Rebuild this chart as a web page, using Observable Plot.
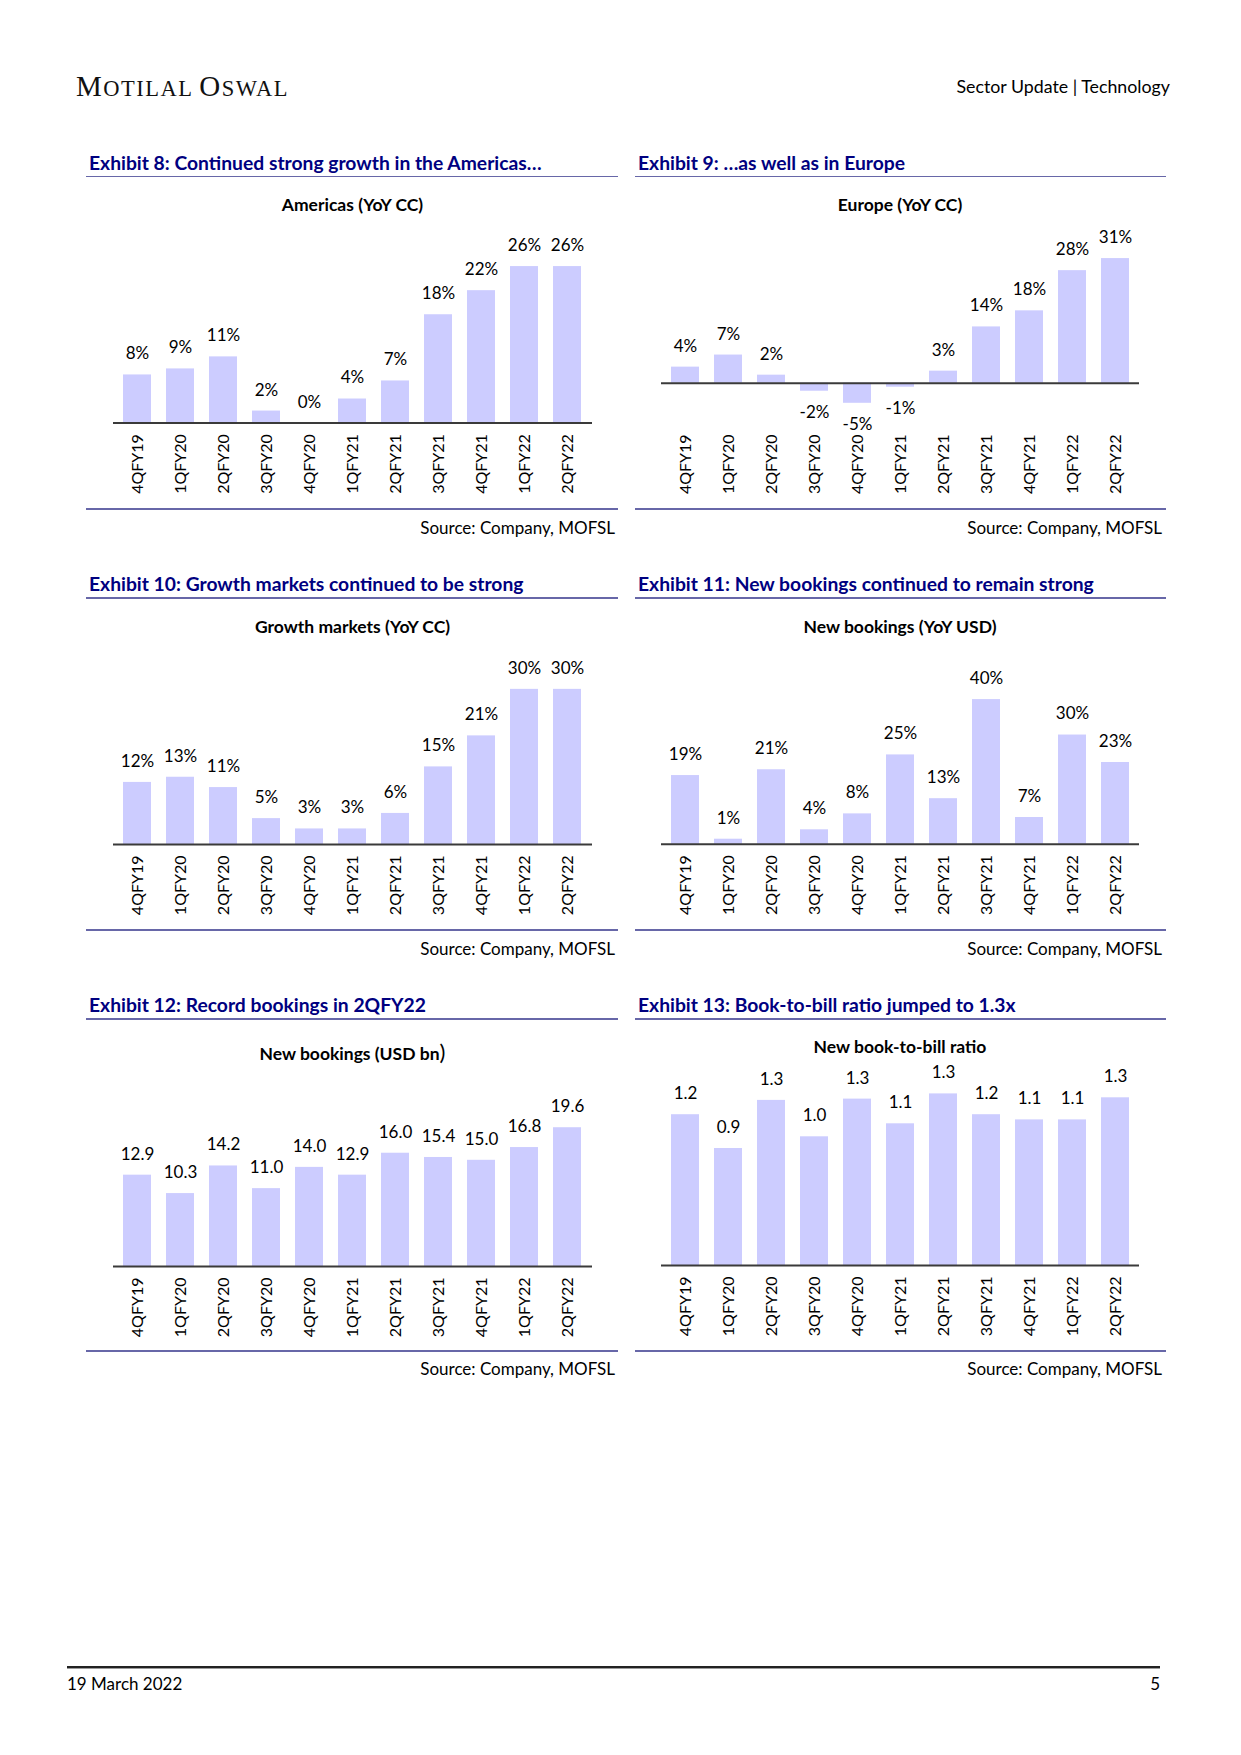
<!DOCTYPE html>
<html><head><meta charset="utf-8">
<script src="https://cdn.jsdelivr.net/npm/d3@7"></script>
<script src="https://cdn.jsdelivr.net/npm/@observablehq/plot@0.6"></script>
<style>
html,body{margin:0;padding:0;background:#fff;}
#page{position:relative;width:1241px;height:1755px;overflow:hidden;font-family:Lato,"Open Sans",sans-serif;}
.abs{position:absolute;white-space:nowrap;line-height:1;}
.hl{position:absolute;}
svg{overflow:visible;}
</style></head>
<body><div id="page"></div>
<script>
// ---------------- data ----------------
const quarters = ["4QFY19","1QFY20","2QFY20","3QFY20","4QFY20","1QFY21","2QFY21","3QFY21","4QFY21","1QFY22","2QFY22"];
const americas = [8, 9, 11, 2, 0, 4, 7, 18, 22, 26, 26];
const europe = [4, 7, 2, -2, -5, -1, 3, 14, 18, 28, 31];
const growthMarkets = [12, 13, 11, 5, 3, 3, 6, 15, 21, 30, 30];
const bookingsYoY = [19.0, 1.4, 20.6, 4.0, 8.4, 24.7, 12.6, 40.0, 7.4, 30.2, 22.6];
const bookingsUSD = [12.9, 10.3, 14.2, 11.0, 14.0, 12.9, 16.0, 15.4, 15.0, 16.8, 19.6];
const bookToBill = [1.16, 0.90, 1.27, 0.99, 1.28, 1.09, 1.32, 1.16, 1.12, 1.12, 1.29];

const exhibitTitles = [
  "Exhibit 8: Continued strong growth in the Americas…",
  "Exhibit 9: …as well as in Europe",
  "Exhibit 10: Growth markets continued to be strong",
  "Exhibit 11: New bookings continued to remain strong",
  "Exhibit 12: Record bookings in 2QFY22",
  "Exhibit 13: Book-to-bill ratio jumped to 1.3x"
];
const chartTitles = ["Americas (YoY CC)", "Europe (YoY CC)", "Growth markets (YoY CC)", "New bookings (YoY USD)", "New bookings (USD bn", "New book-to-bill ratio"];
const chartTitleTails = ["", "", "", "", ")", ""];
const sourceText = "Source: Company, MOFSL";
const headerRight = "Sector Update | Technology";
const footerDate = "19 March 2022";
const pageNumber = "5";

// ---------------- layout ----------------
const page = document.getElementById("page");
const NAVY = "#000080", RULE = "#6767A8", BAR = "#CCCCFF";

function put(html, x, y, o = {}) {
  const {anchor = "start", size = 17, weight = 400, color = "#000", family = "Lato, sans-serif", ls = 0} = o;
  const d = document.createElement("div");
  d.className = "abs";
  d.innerHTML = html;
  const tx = anchor === "start" ? "0" : anchor === "middle" ? "-50%" : "-100%";
  d.style.cssText += `left:${x}px;top:${y}px;transform:translate(${tx},-50%);font-size:${size}px;font-weight:${weight};color:${color};font-family:${family};letter-spacing:${ls}px;`;
  page.appendChild(d);
  return d;
}
function hline(x1, x2, y, color, w) {
  const d = document.createElement("div");
  d.className = "hl";
  d.style.cssText = `left:${x1}px;top:${y - w / 2}px;width:${x2 - x1}px;height:${w}px;background:${color};`;
  page.appendChild(d);
}
function esc(s) { return s.replace(/&/g, "&amp;").replace(/</g, "&lt;"); }

// header
put(`<span style="font-size:29px">M</span><span style="font-size:22.5px">OTILAL</span> <span style="font-size:29px">O</span><span style="font-size:22.5px">SWAL</span>`,
  76, 86, {family: "'Liberation Serif', serif", ls: 1.5, color: "#111"});
put(esc(headerRight), 1170, 87, {anchor: "end", size: 17.8});

// footer
hline(67, 1160, 1666.5, "#222", 2);
hline(67, 1160, 1668.8, "#9a9a9a", 1);
put(esc(footerDate), 67, 1683, {size: 17});
put(esc(pageNumber), 1160, 1683, {anchor: "end", size: 17});

const cols = [
  {x0: 86, x1: 618, plotL: 113, plotR: 592, titleX: 89, srcR: 615},
  {x0: 635, x1: 1166, plotL: 661, plotR: 1139, titleX: 638, srcR: 1162}
];
const rows = [
  {title: 163, rule: 176.7, bottom: 509, source: 526.5},
  {title: 583.5, rule: 598, bottom: 930, source: 947.5},
  {title: 1005, rule: 1019, bottom: 1351, source: 1368}
];
const pct = v => `${Math.round(v)}%`;
const d1 = v => v.toFixed(1);
const charts = [
  {row: 0, col: 0, values: americas, fmt: pct, domain: [0, 30], base: 423, ppu: 6.02, ct: 205.3},
  {row: 0, col: 1, values: europe, fmt: pct, domain: [-10, 35], base: 383, ppu: 4.02, ct: 205.3},
  {row: 1, col: 0, values: growthMarkets, fmt: pct, domain: [0, 35], base: 843.7, ppu: 5.17, ct: 626.5},
  {row: 1, col: 1, values: bookingsYoY, fmt: pct, domain: [0, 45], base: 844, ppu: 3.617, ct: 626.5},
  {row: 2, col: 0, values: bookingsUSD, fmt: d1, domain: [0, 25], base: 1265.5, ppu: 7.08, ct: 1051.5},
  {row: 2, col: 1, values: bookToBill, fmt: d1, domain: [0, 1.4], base: 1265, ppu: 130, ct: 1047.3}
];

charts.forEach((c, i) => {
  const col = cols[c.col], row = rows[c.row];
  // exhibit title + rules + source
  put(esc(exhibitTitles[i]), col.titleX, row.title, {size: 19.3, weight: 700, color: NAVY});
  hline(col.x0, col.x1, row.rule, RULE, 1.6);
  hline(col.x0, col.x1, row.bottom, RULE, 1.6);
  put(esc(sourceText), col.srcR, row.source, {anchor: "end", size: 17});
  const tail = chartTitleTails[i] ? `<span style="font-size:22px;font-weight:400">${esc(chartTitleTails[i])}</span>` : "";
  put(esc(chartTitles[i]) + tail, (col.plotL + col.plotR) / 2, c.ct, {anchor: "middle", size: 17.5, weight: 700});

  // chart
  const plotTop = c.base - c.domain[1] * c.ppu;
  const plotBottom = c.base - c.domain[0] * c.ppu;
  const mt = 34, mb = 80;
  const width = col.x1 - col.x0;
  const height = Math.round(mt + (plotBottom - plotTop) + mb);
  const data = quarters.map((q, k) => ({q, v: c.values[k]}));
  const svg = Plot.plot({
    width, height,
    marginTop: mt, marginBottom: height - mt - (plotBottom - plotTop),
    marginLeft: col.plotL - col.x0, marginRight: col.x1 - col.plotR,
    style: {fontFamily: "Lato, sans-serif", fontSize: "17px", color: "#000", background: "transparent", overflow: "visible"},
    x: {type: "band", domain: quarters, paddingInner: 0.34, paddingOuter: 0.17},
    y: {domain: c.domain, axis: null},
    marks: [
      Plot.barY(data, {x: "q", y: "v", fill: BAR}),
      Plot.ruleY([0], {stroke: "#3a3a3a", strokeWidth: 2}),
      Plot.text(data, {filter: d => d.v >= 0, x: "q", y: "v", text: d => c.fmt(d.v), dy: -21, fontSize: 17, fill: "#000"}),
      Plot.text(data, {filter: d => d.v < 0, x: "q", y: "v", text: d => c.fmt(d.v), dy: 21, fontSize: 17, fill: "#000"}),
      Plot.axisX({tickRotate: -90, tickSize: 0, tickPadding: 11, fontSize: 16, fill: "#000", label: null})
    ]
  });
  svg.style.position = "absolute";
  svg.style.left = col.x0 + "px";
  svg.style.top = (plotTop - mt) + "px";
  page.appendChild(svg);
});
</script>
</body></html>
